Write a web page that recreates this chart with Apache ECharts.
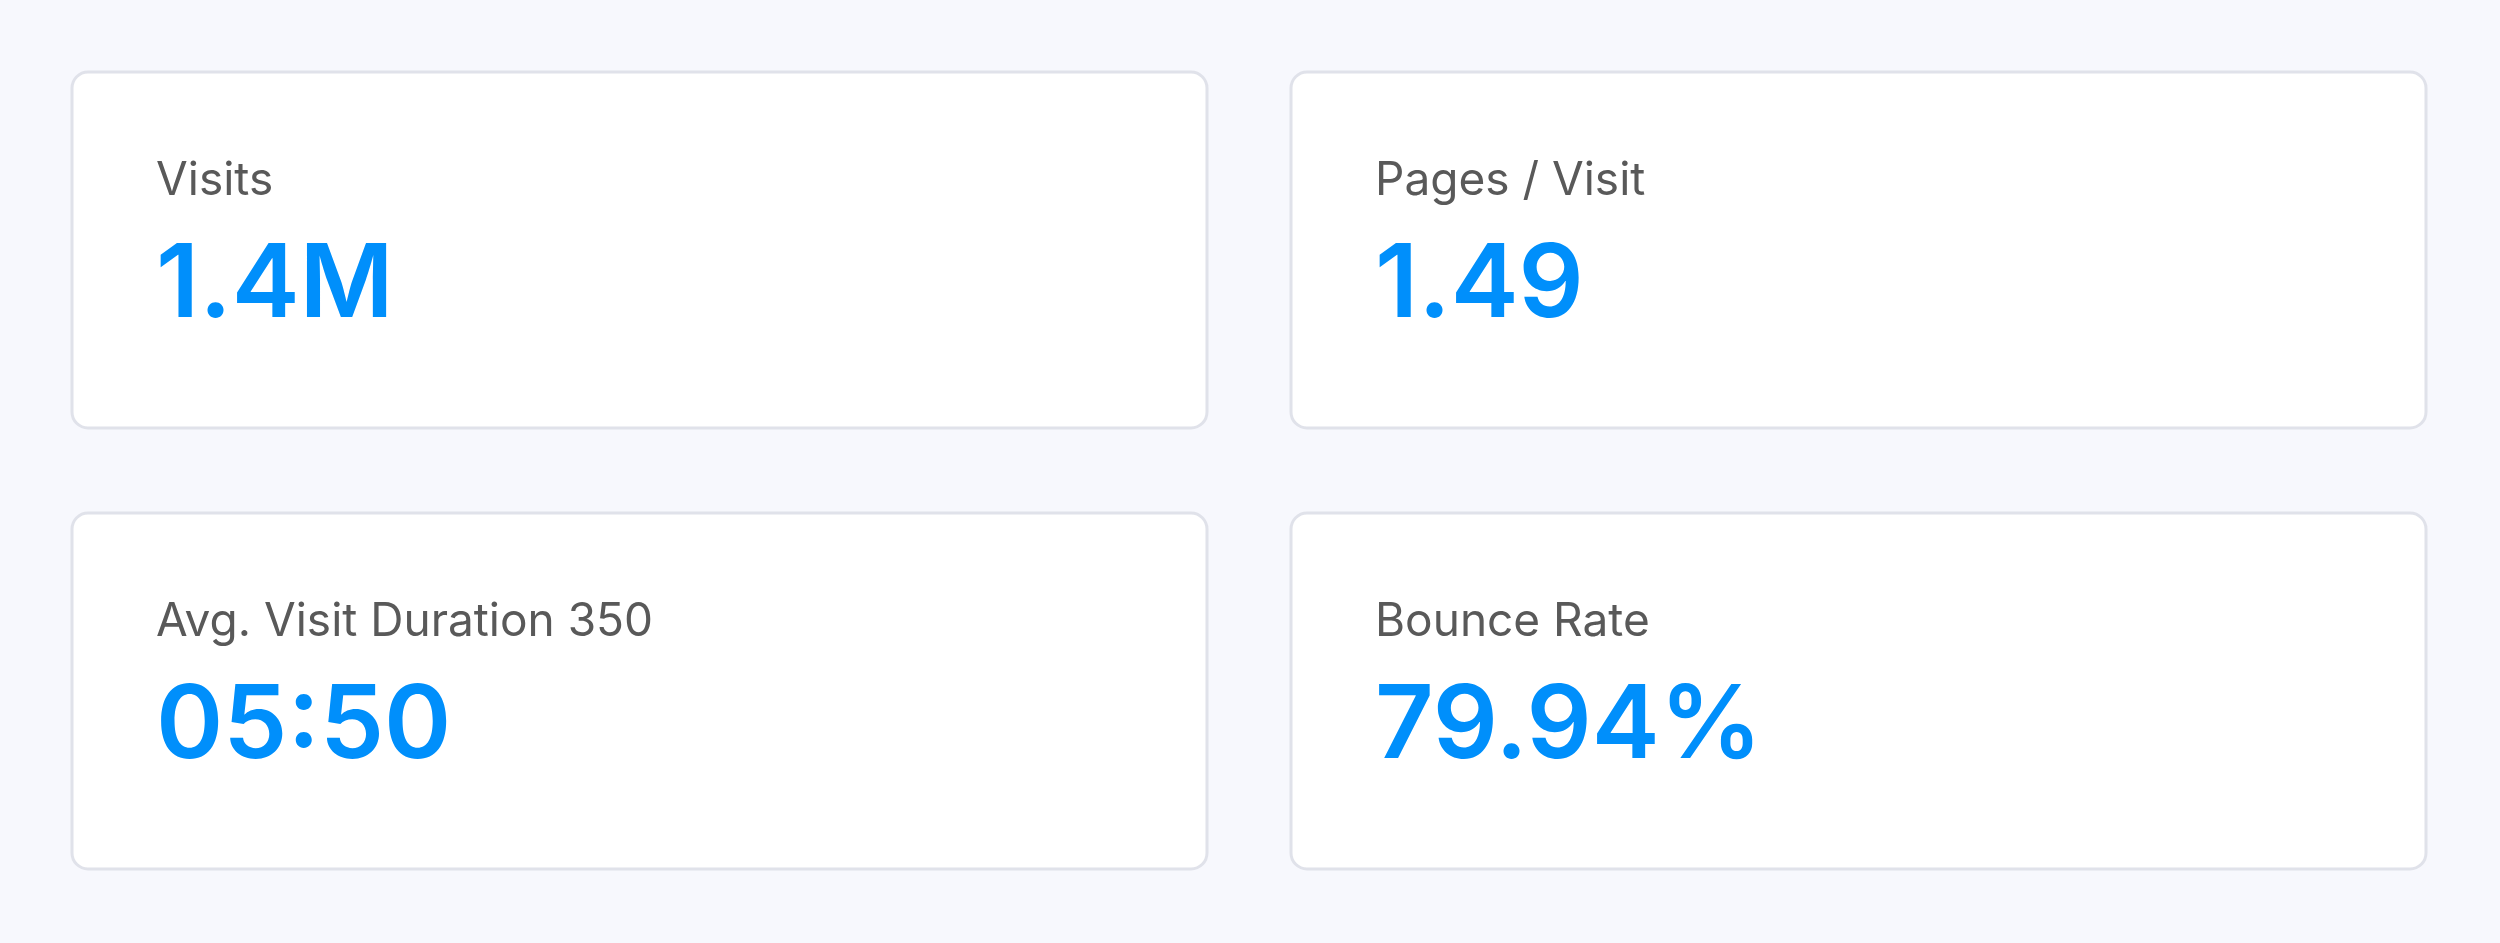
<!DOCTYPE html>
<html><head><meta charset="utf-8">
<script src="https://cdn.jsdelivr.net/npm/echarts@6/dist/echarts.min.js"></script>
<style>html,body{margin:0;padding:0;background:#f7f8fd;}#c{width:2500px;height:943px;}</style>
</head><body><div id="c"></div>
<script>
const labels = ['Visits', 'Pages / Visit', 'Avg. Visit Duration 350', 'Bounce Rate'];
const values = ['1.4M', '1.49', '05:50', '79.94%'];

const chart = echarts.init(document.getElementById('c'));
const cardX = [72, 1291], cardY = [72, 513], cardW = 1135, cardH = 356;
const elements = [];
labels.forEach((lab, i) => {
  const x = cardX[i % 2], y = cardY[Math.floor(i / 2)];
  elements.push({type:'rect', shape:{x:x, y:y, width:cardW, height:cardH, r:16},
    style:{fill:'#ffffff', stroke:'#e0e2ea', lineWidth:3}});
  elements.push({type:'text', x:x+84, y:y+109, style:{text:lab, fill:'#595959',
    font:'400 46px Inter', verticalAlign:'middle', align:'left'}});
  elements.push({type:'text', x:x+84, y:y+214, style:{text:values[i], fill:'#008ffb',
    font:'600 102px Inter', verticalAlign:'middle', align:'left'}});
});
chart.setOption({backgroundColor:'#f7f8fd', graphic:{elements:elements}});
</script></body></html>
